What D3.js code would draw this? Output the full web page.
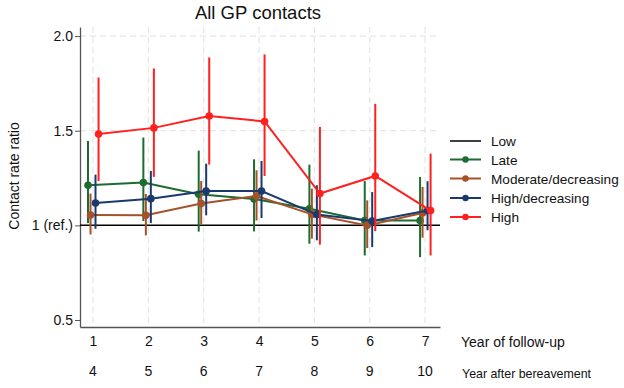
<!DOCTYPE html>
<html><head><meta charset="utf-8">
<script src="https://cdn.jsdelivr.net/npm/d3@7"></script>
<style>body{margin:0;background:#fff}svg{font-family:"Liberation Sans",Arial,sans-serif}</style>
</head><body><svg id="c" width="624" height="388"></svg>
<script>
const years = [1,2,3,4,5,6,7];
const yearsAfter = ["4","5","6","7","8","9","10"];
const yTicks = [0.5,1,1.5,2.0];
const yTickLabels = ["0.5","1 (ref.)","1.5","2.0"];
const seriesNames = ["Low","Late","Moderate/decreasing","High/decreasing","High"];
const seriesColors = ["#000000","#1e6b30","#a5522a","#1a3a6e","#ff2020"];
const seriesOffsets = [0,-0.09,-0.045,0.045,0.1];
const lateEst = [1.212,1.226,1.164,1.139,1.088,1.026,1.026];
const lateLo  = [1.012,1.023,0.967,0.968,0.903,0.841,0.832];
const lateHi  = [1.446,1.464,1.395,1.349,1.321,1.234,1.256];
const modEst = [1.055,1.053,1.115,1.155,1.058,1.0,1.065];
const modLo  = [0.952,0.947,1.005,1.026,0.93,0.88,0.935];
const modHi  = [1.168,1.166,1.234,1.291,1.194,1.132,1.203];
const hdEst = [1.118,1.141,1.181,1.181,1.057,1.023,1.078];
const hdLo  = [0.982,1.012,1.053,1.039,0.921,0.885,0.974];
const hdHi  = [1.268,1.287,1.326,1.34,1.212,1.176,1.233];
const highEst = [1.483,1.515,1.578,1.549,1.168,1.261,1.078];
const highLo  = [1.234,1.256,1.321,1.261,0.898,0.97,0.841];
const highHi  = [1.781,1.829,1.887,1.903,1.52,1.642,1.379];

const series = [
  {est:lateEst,lo:lateLo,hi:lateHi,i:1},
  {est:modEst,lo:modLo,hi:modHi,i:2},
  {est:hdEst,lo:hdLo,hi:hdHi,i:3},
  {est:highEst,lo:highLo,hi:highHi,i:4}
];

const svg = d3.select("#c");
const L=80,R=440,T=27,B=327;
const x = d3.scaleLinear().domain([0.765,7.27]).range([L,R]);
const y = d3.scaleLinear().domain([0.463,2.048]).range([B,T]);

// grid
const g = svg.append("g");
g.selectAll(".vg").data(years).join("line")
  .attr("x1",d=>x(d)).attr("x2",d=>x(d)).attr("y1",T).attr("y2",B)
  .attr("stroke","#e6e6e6").attr("stroke-width",1.2).attr("stroke-dasharray","6,4");
g.selectAll(".hg").data([1.5,2.0]).join("line")
  .attr("x1",L).attr("x2",R).attr("y1",d=>y(d)).attr("y2",d=>y(d))
  .attr("stroke","#e6e6e6").attr("stroke-width",1.2).attr("stroke-dasharray","6,4");

// y axis
const ya = d3.axisLeft(y).tickValues(yTicks).tickFormat((d,i)=>yTickLabels[i]).tickSize(5).tickSizeOuter(0);
const yg = svg.append("g").attr("transform",`translate(${L},0)`).call(ya);
yg.select(".domain").attr("stroke","#555").attr("stroke-width",1.3);
yg.selectAll(".tick line").attr("stroke","#555");
yg.selectAll(".tick text").attr("font-size",14).attr("fill","#111").attr("font-family","Liberation Sans, Arial, sans-serif").attr("x",-7);

// x axis
const xa = d3.axisBottom(x).tickValues(years).tickFormat(d3.format("d")).tickSize(0).tickSizeOuter(0).tickPadding(9);
const xg = svg.append("g").attr("transform",`translate(0,${B})`).call(xa);
xg.select(".domain").attr("stroke","#555").attr("stroke-width",1.3);
xg.selectAll(".tick text").attr("font-size",14).attr("fill","#111").attr("font-family","Liberation Sans, Arial, sans-serif");
svg.append("g").selectAll("text").data(years).join("text")
  .attr("x",d=>x(d)).attr("y",376).attr("text-anchor","middle")
  .attr("font-size",14).attr("fill","#111").text((d,i)=>yearsAfter[i]);

// Low reference line
svg.append("line").attr("x1",L).attr("x2",R).attr("y1",y(1)).attr("y2",y(1))
  .attr("stroke","#000").attr("stroke-width",1.5);

// series
series.forEach(s=>{
  const col = seriesColors[s.i], off = seriesOffsets[s.i];
  const sg = svg.append("g");
  sg.selectAll("line").data(years).join("line")
    .attr("x1",(d,j)=>x(d+off)).attr("x2",(d,j)=>x(d+off))
    .attr("y1",(d,j)=>y(s.lo[j])).attr("y2",(d,j)=>y(s.hi[j]))
    .attr("stroke",col).attr("stroke-width",2);
  sg.append("path").datum(years)
    .attr("d",d3.line().x((d)=>x(d+off)).y((d,j)=>y(s.est[j])))
    .attr("fill","none").attr("stroke",col).attr("stroke-width",2);
  sg.selectAll("circle").data(years).join("circle")
    .attr("cx",d=>x(d+off)).attr("cy",(d,j)=>y(s.est[j])).attr("r",3.8).attr("fill",col);
});

// title
svg.append("text").attr("x",258).attr("y",19).attr("text-anchor","middle")
  .attr("font-size",18.5).attr("fill","#111").text("All GP contacts");
// y title
svg.append("text").attr("transform","translate(19,176) rotate(-90)").attr("text-anchor","middle")
  .attr("font-size",14).attr("fill","#111").text("Contact rate ratio");
// x titles
svg.append("text").attr("x",461).attr("y",347).attr("font-size",14).attr("fill","#111").text("Year of follow-up");
svg.append("text").attr("x",462).attr("y",378).attr("font-size",12.4).attr("fill","#111").text("Year after bereavement");

// legend
const leg = svg.append("g");
const ly = [141,159.5,178.5,198,217];
seriesNames.forEach((n,i)=>{
  leg.append("line").attr("x1",450).attr("x2",481).attr("y1",ly[i]).attr("y2",ly[i])
    .attr("stroke",seriesColors[i]).attr("stroke-width",i===0?1.5:2);
  if(i>0) leg.append("circle").attr("cx",465.5).attr("cy",ly[i]).attr("r",3.2).attr("fill",seriesColors[i]);
  leg.append("text").attr("x",491).attr("y",ly[i]+5).attr("font-size",13.6).attr("fill","#111").text(n);
});
</script></body></html>
